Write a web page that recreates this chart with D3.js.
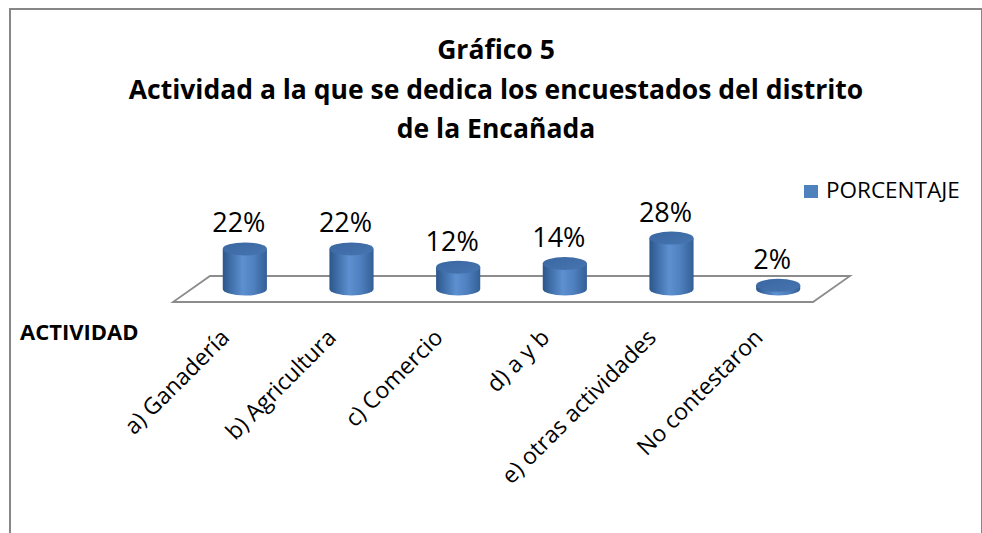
<!DOCTYPE html>
<html>
<head>
<meta charset="utf-8">
<script src="https://cdn.jsdelivr.net/npm/d3@7/dist/d3.min.js"></script>
<style>
  html, body { margin: 0; padding: 0; background: #fff; }
  svg { display: block; }
  text { font-family: "Open Sans", Lato, sans-serif; fill: #000; }
</style>
</head>
<body>
<svg id="chart" width="982" height="533"></svg>
<script>
// ---- data ----
const categories = ["a) Ganadería", "b) Agricultura", "c) Comercio", "d) a y b", "e) otras actividades", "No contestaron"];
const values = [22, 22, 12, 14, 28, 2];
const valueLabels = ["22%", "22%", "12%", "14%", "28%", "2%"];
const seriesName = "PORCENTAJE";
const axisTitle = "ACTIVIDAD";
const titleLines = ["Gráfico 5", "Actividad a la que se dedica los encuestados del distrito", "de la Encañada"];

// ---- layout ----
const svg = d3.select("#chart");

// chart border
svg.append("rect")
  .attr("x", 10).attr("y", 9).attr("width", 972).attr("height", 600)
  .attr("fill", "#fff").attr("stroke", "#868686").attr("stroke-width", 2);

// gradients
const defs = svg.append("defs");
const gBody = defs.append("linearGradient").attr("id", "body").attr("x1", "0").attr("x2", "1").attr("y1", "0").attr("y2", "0");
[["0%", "#2c5689"], ["18%", "#3f6ea9"], ["45%", "#5d90d0"], ["70%", "#4f80bf"], ["100%", "#335f96"]]
  .forEach(([o, c]) => gBody.append("stop").attr("offset", o).attr("stop-color", c));
const gTop = defs.append("linearGradient").attr("id", "top").attr("x1", "0").attr("x2", "1").attr("y1", "0").attr("y2", "1");
[["0%", "#3a67a0"], ["100%", "#4775b1"]]
  .forEach(([o, c]) => gTop.append("stop").attr("offset", o).attr("stop-color", c));

// scales
const x = d3.scaleBand().domain(categories).range([191.5, 831.5]);
const y = d3.scaleLinear().domain([0, 30]).range([289, 234.4]);

// floor (3D base plane)
const depth = 13, skew = 18.5;
const x0 = x.range()[0], x1 = x.range()[1], yb = y(0);
svg.append("path")
  .attr("d", `M${x0 - skew},${yb + depth} L${x1 - skew},${yb + depth} L${x1 + skew},${yb - depth} L${x0 + skew},${yb - depth} Z`)
  .attr("fill", "none").attr("stroke", "#8c8c8c").attr("stroke-width", 1.8);

// cylinders
const rx = x.bandwidth() * 0.207, ry = 6.5;
const bars = svg.append("g").selectAll("g").data(categories).join("g");
bars.append("path")
  .attr("d", (d, i) => {
    const cx = x(d) + x.bandwidth() / 2, yt = y(values[i]);
    return `M${cx - rx},${yt} L${cx - rx},${yb} A${rx},${ry} 0 0 0 ${cx + rx},${yb} L${cx + rx},${yt} Z`;
  })
  .attr("fill", "url(#body)");
bars.append("ellipse")
  .attr("cx", d => x(d) + x.bandwidth() / 2)
  .attr("cy", (d, i) => y(values[i]))
  .attr("rx", rx).attr("ry", ry)
  .attr("fill", "url(#top)");

// value labels
bars.append("text")
  .attr("x", d => x(d) + x.bandwidth() / 2 - 6)
  .attr("y", (d, i) => y(values[i]) - ry - 10)
  .attr("text-anchor", "middle")
  .attr("font-size", 27)
  .text((d, i) => valueLabels[i]);

// category labels (rotated)
svg.append("g").selectAll("text").data(categories).join("text")
  .attr("transform", d => `translate(${x(d) + x.bandwidth() / 2 - 14},339) rotate(-45)`)
  .attr("text-anchor", "end")
  .attr("font-size", 23)
  .text(d => d);

// axis title
svg.append("text").attr("x", 20).attr("y", 340)
  .attr("font-size", 22).attr("font-weight", "bold").text(axisTitle);

// title
svg.append("g").selectAll("text").data(titleLines).join("text")
  .attr("x", 496).attr("y", (d, i) => [59, 99, 138][i])
  .attr("text-anchor", "middle").attr("font-size", 26.5).attr("font-weight", "bold")
  .text(d => d);

// legend
svg.append("rect").attr("x", 804).attr("y", 185).attr("width", 14).attr("height", 13).attr("fill", "#4f81bd");
svg.append("text").attr("x", 826).attr("y", 198).attr("font-size", 22.5).text(seriesName);
</script>
</body>
</html>
